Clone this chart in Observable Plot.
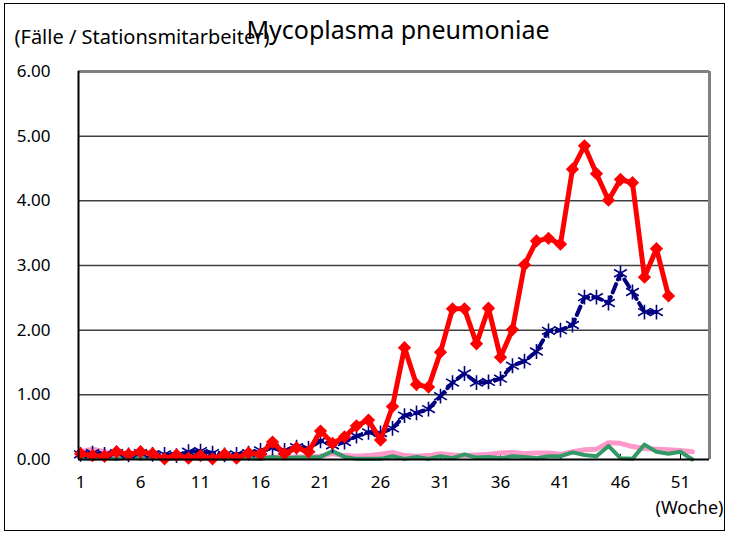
<!DOCTYPE html>
<html><head><meta charset="utf-8">
<script src="https://cdn.jsdelivr.net/npm/d3@7"></script>
<script src="https://cdn.jsdelivr.net/npm/@observablehq/plot@0.6"></script>
<style>html,body{margin:0;padding:0;background:#fff} #chart svg{display:block}</style>
</head><body><div id="chart"></div>
<script>
const title = "Mycoplasma pneumoniae";
const yUnit = "(Fälle / Stationsmitarbeiter)";
const xUnit = "(Woche)";
const xTicks = [1, 6, 11, 16, 21, 26, 31, 36, 41, 46, 51];
const yTicks = [0, 1, 2, 3, 4, 5, 6];

const redValues = [0.09,0.06,0.05,0.12,0.08,0.12,0.09,0.01,0.07,0.02,0.06,0.01,0.08,0.02,0.10,0.08,0.27,0.09,0.18,0.12,0.44,0.25,0.35,0.52,0.61,0.30,0.82,1.73,1.16,1.12,1.66,2.33,2.33,1.79,2.34,1.58,2.01,3.01,3.38,3.42,3.33,4.49,4.85,4.42,4.01,4.33,4.28,2.82,3.26,2.53];
const blueValues = [0.08,0.10,0.08,0.10,0.07,0.10,0.08,0.08,0.06,0.12,0.13,0.10,0.07,0.08,0.10,0.14,0.18,0.14,0.19,0.17,0.29,0.22,0.27,0.36,0.42,0.41,0.48,0.68,0.72,0.78,0.98,1.19,1.33,1.19,1.20,1.25,1.45,1.52,1.67,1.99,2.00,2.08,2.51,2.51,2.42,2.88,2.59,2.28,2.28];
const pinkValues = [0.12,0.16,0.12,0.06,0.05,0.06,0.04,0.03,0.03,0.05,0.04,0.03,0.03,0.03,0.03,0.03,0.04,0.03,0.04,0.04,0.05,0.09,0.06,0.05,0.06,0.08,0.11,0.06,0.05,0.06,0.09,0.07,0.06,0.07,0.08,0.10,0.11,0.09,0.10,0.10,0.08,0.12,0.15,0.16,0.26,0.25,0.20,0.17,0.16,0.15,0.14,0.12];
const greenValues = [0.02,0.01,0.02,0.01,0.03,0.02,0.02,0.01,0.01,0.02,0.01,0.02,0.01,0.02,0.02,0.01,0.04,0.02,0.03,0.03,0.04,0.13,0.04,0.01,0.01,0.01,0.05,0.01,0.04,0.01,0.05,0.02,0.08,0.03,0.04,0.02,0.05,0.04,0.02,0.05,0.05,0.11,0.07,0.05,0.21,0.02,0.01,0.23,0.12,0.09,0.12,0.00];

const rows = (arr) => arr.map((v, i) => ({week: i + 1, value: v}));
const red = rows(redValues), blue = rows(blueValues), pink = rows(pinkValues), green = rows(greenValues);

const xMin = 0.83, xMax = 53.42;

const chart = Plot.plot({
  width: 729, height: 535,
  marginLeft: 78, marginRight: 20, marginTop: 71, marginBottom: 76,
  style: {fontFamily: "'Noto Sans', sans-serif", background: "white", color: "black"},
  x: {domain: [xMin, xMax], axis: null},
  y: {domain: [0, 6], axis: null},
  marks: [
    Plot.ruleY([1, 2, 3, 4, 5], {stroke: "#404040", strokeWidth: 1.5}),
    Plot.ruleY([6], {stroke: "#808080", strokeWidth: 3}),
    Plot.ruleX([xMax], {stroke: "#808080", strokeWidth: 3}),
    Plot.ruleX(xTicks, {y1: 0, y2: 0.08, stroke: "black", strokeWidth: 1}),
    Plot.line(pink, {x: "week", y: "value", stroke: "#ff99cc", strokeWidth: 5}),
    Plot.line(green, {x: "week", y: "value", stroke: "#339966", strokeWidth: 4}),
    Plot.line(blue, {x: "week", y: "value", stroke: "#000080", strokeWidth: 4, strokeDasharray: "9,5"}),
    Plot.dot(blue, {x: "week", y: "value", symbol: "asterisk", r: 7, stroke: "#000080", strokeWidth: 1.6}),
    Plot.line(red, {x: "week", y: "value", stroke: "#ff0000", strokeWidth: 5}),
    Plot.dot(red, {x: "week", y: "value", symbol: "diamond2", r: 6, fill: "#ff0000", stroke: "none"}),
    Plot.ruleX([xMin], {stroke: "black", strokeWidth: 2}),
    Plot.ruleY([0], {stroke: "black", strokeWidth: 2}),
    Plot.axisY(yTicks, {tickFormat: d3.format(".2f"), tickSize: 0, tickPadding: 28, fontSize: 17, label: null}),
    Plot.axisX(xTicks, {tickSize: 0, tickPadding: 16, fontSize: 17, label: null}),
    Plot.text([title], {frameAnchor: "top", lineAnchor: "middle", dx: 4, dy: -41, fontSize: 25}),
    Plot.text([yUnit], {frameAnchor: "top-left", lineAnchor: "middle", textAnchor: "start", dx: -64, dy: -34, fontSize: 20}),
    Plot.text([xUnit], {frameAnchor: "bottom-right", lineAnchor: "middle", textAnchor: "end", dx: 14, dy: 49, fontSize: 18})
  ]
});

d3.select(chart).append("rect")
  .attr("x", 4.5).attr("y", 3.5).attr("width", 720).attr("height", 527)
  .attr("fill", "none").attr("stroke", "black").attr("stroke-width", 1);

document.getElementById("chart").appendChild(chart);
</script>
</body></html>
